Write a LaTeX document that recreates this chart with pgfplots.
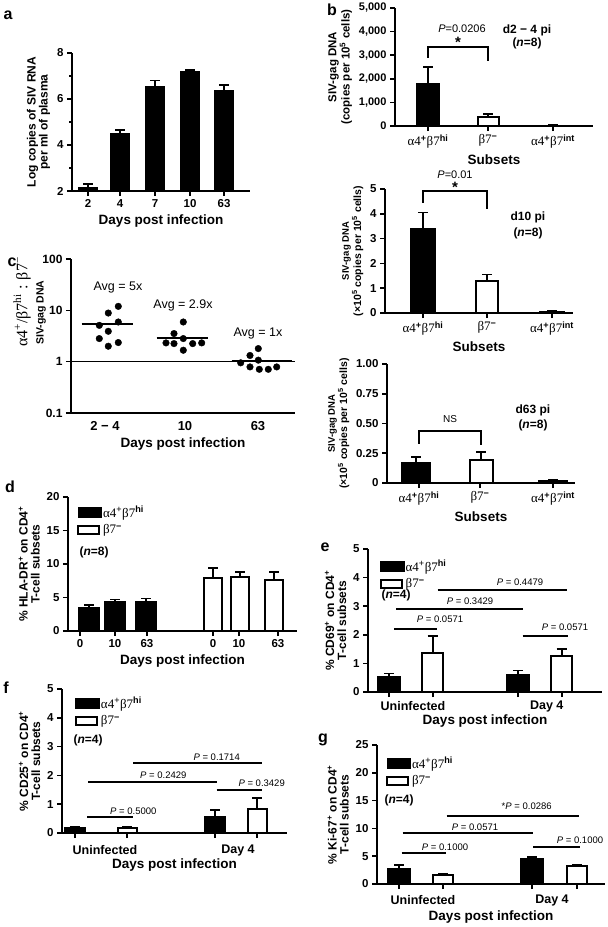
\documentclass[border=0pt]{standalone}
\usepackage{fontspec}
\setmainfont{Liberation Sans}
\newfontfamily\gk{Liberation Serif}
\usepackage{pgfplots}
\pgfplotsset{compat=1.18}
\newcommand{\fs}[1]{\fontsize{#1}{#1}\selectfont}
\newcommand{\ahi}{{\gk\mdseries α4}\textsuperscript{+}{\gk\mdseries β7}\textsuperscript{\bfseries hi}}
\newcommand{\aint}{{\gk\mdseries α4}\textsuperscript{+}{\gk\mdseries β7}\textsuperscript{\bfseries int}}
\newcommand{\bneg}{{\gk\mdseries β7}\textsuperscript{\bfseries −}}
\pgfplotsset{
  base/.style={
    scale only axis, axis lines*=left, clip=false,
    axis line style={line width=2.2pt},
    every tick/.style={black, line width=1.6pt},
    tick align=outside, major tick length=5pt, minor tick length=3pt,
    tick label style={font=\bfseries\fs{11.5}},
    xlabel style={font=\bfseries\fs{13.5}},
    ylabel style={font=\bfseries\fs{12}, align=center},
    /pgf/number format/assume math mode=true,
    scaled y ticks=false,
    legend cell align=left,
  },
  bk/.style={ybar, bar width=#1, bar shift=0pt, fill=black, draw=black, line width=1.5pt,
    legend image code/.code={\draw[fill=black, draw=black, line width=1.5pt] (0pt,-4.5pt) rectangle (23pt,4.5pt);},
    error bars/.cd, y dir=plus, y explicit, error bar style={line width=1.6pt, black}, error mark options={rotate=90, line width=1.6pt, mark size=5pt, black}},
  wh/.style={ybar, bar width=#1, bar shift=0pt, fill=white, draw=black, line width=2pt,
    legend image code/.code={\draw[fill=white, draw=black, line width=2pt] (0pt,-4pt) rectangle (21pt,4pt);},
    error bars/.cd, y dir=plus, y explicit, error bar style={line width=1.6pt, black}, error mark options={rotate=90, line width=1.6pt, mark size=5pt, black}},
  leg/.style={legend style={draw=none, fill=none, at={#1}, anchor=north west, inner sep=0pt, row sep=4pt,
    font=\fs{13}, nodes={inner sep=1pt, anchor=west}}},
  cat/.style 2 args={extra x tick style={major tick length=0pt, tick label style={font=\bfseries\fs{12.5}, anchor=center, yshift=-#1}},
    xlabel style={at={(rel axis cs:0.5,0)}, anchor=center, yshift=-#2}},
}
\tikzset{pv/.style={font=\fs{9.5}}, pl/.style={font=\bfseries\fs{16}}, sig/.style={line width=2pt, black}}
\begin{document}
\begin{tikzpicture}
\useasboundingbox (0,0) rectangle (608pt,-927pt);
% panel letters
\node[pl] at (8pt,-15pt) {a};
\node[pl] at (332pt,-10pt) {b};
\node[pl] at (12pt,-262pt) {c};
\node[pl] at (10pt,-487pt) {d};
\node[pl] at (325pt,-547pt) {e};
\node[pl] at (6pt,-688pt) {f};
\node[pl] at (323pt,-740pt) {g};
% panel c y label
\node[rotate=90, anchor=west, inner sep=0pt, font=\gk\fs{16}] at (22pt,-347pt) {α4\textsuperscript{+}/β7\textsuperscript{hi} : β7\textsuperscript{−}};
\node[rotate=90, anchor=west, inner sep=0pt, font=\bfseries\fs{10.5}] at (41pt,-345pt) {SIV-gag DNA};

% ---------- a ----------
\begin{axis}[base, at={(72pt,-191pt)}, anchor=south west, width=178pt, height=138pt,
  xmin=0, xmax=178, ymin=0, ymax=6, ytick={0,2,4,6}, yticklabels={2,4,6,8}, minor ytick={1,3,5},
  xtick={16,48,83,118,152}, xticklabels={2,4,7,10,63},
  xlabel={Days post infection}, ylabel={Log copies of SIV RNA\\per ml of plasma}]
\addplot[bk=18pt] coordinates {(16,0.15)+-(0,0.15) (48,2.5)+-(0,0.15) (83,4.55)+-(0,0.25) (118,5.2)+-(0,0.05) (152,4.35)+-(0,0.25)};
\end{axis}

% ---------- b top ----------
\begin{axis}[base, at={(395pt,-126pt)}, anchor=south west, width=198pt, height=118pt,
  xmin=0, xmax=198, ymin=0, ymax=5000, ytick={0,1000,2000,3000,4000,5000},
  yticklabel style={font=\bfseries\fs{11}},
  xtick={33,93,158}, xticklabels={\ahi,\bneg,\aint}, xticklabel style={font=\bfseries\fs{13}},
  xlabel={Subsets}, ylabel={SIV-gag DNA\\(copies per 10\textsuperscript{5} cells)}, ylabel style={font=\bfseries\fs{11.5}}]
\addplot[bk=23pt] coordinates {(33,1800)+-(0,700) (158,30)+-(0,30)};
\addplot[wh=21pt] coordinates {(93,380)+-(0,140)};
\draw[sig] (axis cs:33,2900) |- (axis cs:93,3360) -- (axis cs:93,2750);
\node[font=\bfseries\fs{15}] at (axis cs:63,3550) {*};
\node[font=\fs{11}] at (axis cs:67,4110) {\textit{P}=0.0206};
\node[font=\bfseries\fs{12}] at (axis cs:132,4070) {d2 − 4 pi};
\node[font=\bfseries\fs{12}] at (axis cs:132,3520) {(\textit{n}=8)};
\end{axis}

% ---------- b middle ----------
\begin{axis}[base, at={(385pt,-313pt)}, anchor=south west, width=188pt, height=124pt,
  xmin=0, xmax=188, ymin=0, ymax=5, ytick={0,1,2,3,4,5},
  yticklabel style={font=\bfseries\fs{11.5}},
  xtick={38,102,167}, xticklabels={\ahi,\bneg,\aint}, xticklabel style={font=\bfseries\fs{13}},
  xlabel={Subsets}, ylabel={{\fs{9.5}SIV-gag DNA}\\(×10\textsuperscript{5} copies per 10\textsuperscript{5} cells)}, ylabel style={font=\bfseries\fs{10.5}}]
\addplot[bk=25pt] coordinates {(38,3.4)+-(0,0.65) (167,0.04)+-(0,0.03)};
\addplot[wh=22pt] coordinates {(102,1.3)+-(0,0.25)};
\draw[sig] (axis cs:38,4.45) |- (axis cs:102,4.9) -- (axis cs:102,4.2);
\node[font=\bfseries\fs{15}] at (axis cs:70,5.05) {*};
\node[font=\fs{11}] at (axis cs:70,5.56) {\textit{P}=0.01};
\node[font=\bfseries\fs{12}] at (axis cs:143,3.87) {d10 pi};
\node[font=\bfseries\fs{12}] at (axis cs:143,3.23) {(\textit{n}=8)};
\end{axis}

% ---------- b bottom ----------
\begin{axis}[base, at={(387pt,-483pt)}, anchor=south west, width=188pt, height=119pt,
  xmin=0, xmax=188, ymin=0, ymax=1, ytick={0,0.25,0.5,0.75,1}, yticklabels={0,0.25,0.50,0.75,1.00},
  yticklabel style={font=\bfseries\fs{11.5}},
  xtick={32,93,166}, xticklabels={\ahi,\bneg,\aint}, xticklabel style={font=\bfseries\fs{13}},
  xlabel={Subsets}, ylabel={{\fs{9.5}SIV-gag DNA}\\(×10\textsuperscript{5} copies per 10\textsuperscript{5} cells)}, ylabel style={font=\bfseries\fs{10.5}}]
\addplot[bk=29pt] coordinates {(29,0.17)+-(0,0.05) (166,0.02)+-(0,0.01)};
\addplot[wh=23pt] coordinates {(94,0.19)+-(0,0.07)};
\draw[sig] (axis cs:32,0.33) |- (axis cs:94,0.44) -- (axis cs:94,0.32);
\node[font=\fs{10}] at (axis cs:63,0.535) {NS};
\node[font=\bfseries\fs{12}] at (axis cs:146,0.61) {d63 pi};
\node[font=\bfseries\fs{12}] at (axis cs:146,0.48) {(\textit{n}=8)};
\end{axis}

% ---------- c ----------
\begin{axis}[base, at={(71pt,-413pt)}, anchor=south west, width=224pt, height=154pt,
  xmin=0, xmax=224, ymode=log, ymin=0.1, ymax=100, ytick={0.1,1,10,100}, yticklabels={0.1,1,10,100},
  yminorticks=false, yticklabel style={font=\bfseries\fs{12}},
  xtick={34,114,187}, xticklabels={2 − 4,10,63}, xtick style={draw=none}, xticklabel style={font=\bfseries\fs{13}},
  xlabel={Days post infection}]
\addplot[line width=1.5pt, black] coordinates {(0,1) (224,1)};
\addplot[only marks, mark=*, mark size=3.3pt, black] coordinates {
 (47.3,11.97) (37.3,8.86) (47.3,5.93) (28.3,5.1) (37.3,3.91) (28.3,2.82) (47.3,2.36) (37.3,2.0)};
\addplot[only marks, mark=*, mark size=3.3pt, black] coordinates {
 (112.3,5.93) (103,3.53) (112.3,2.82) (95,2.32) (103,2.25) (121.7,2.25) (130.7,2.32) (112.3,1.67)};
\addplot[only marks, mark=*, mark size=3.3pt, black] coordinates {
 (187.3,1.8) (179,1.32) (187.3,1.07) (169.7,0.95) (179,0.79) (188.3,0.71) (197.3,0.71) (205.7,0.79)};
\addplot[line width=2pt, black] coordinates {(10.7,5.52) (62.3,5.52)};
\addplot[line width=2pt, black] coordinates {(85.7,2.95) (137.3,2.95)};
\addplot[line width=2pt, black] coordinates {(160.7,1.04) (220.7,1.04)};
\node[font=\fs{12.5}] at (axis cs:47,28) {Avg = 5x};
\node[font=\fs{12.5}] at (axis cs:112,12.5) {Avg = 2.9x};
\node[font=\fs{12.5}] at (axis cs:187,3.6) {Avg = 1x};
\end{axis}

% ---------- d ----------
\begin{axis}[base, at={(68pt,-631pt)}, anchor=south west, width=229pt, height=134pt,
  xmin=0, xmax=229, ymin=0, ymax=20, ytick={0,5,10,15,20},
  xtick={12,47,79,145,171,210}, xticklabels={0,10,63,0,10,63},
  xlabel={Days post infection}, ylabel={\% HLA-DR\textsuperscript{+} on CD4\textsuperscript{+}\\T-cell subsets},
  leg={(rel axis cs:0.04,0.94)}]
\addplot[bk=20pt] coordinates {(21,3.4)+-(0,0.5) (47,4.4)+-(0,0.3) (78,4.4)+-(0,0.45)};
\addplot[wh=18pt] coordinates {(145,7.9)+-(0,1.5) (172,8.0)+-(0,0.8) (206,7.6)+-(0,1.2)};
\legend{\ahi,\bneg}
\node[anchor=west, font=\bfseries\fs{12}] at (axis cs:8,11.8) {(\textit{n}=8)};
\end{axis}

% ---------- e ----------
\begin{axis}[base, cat={14pt}{29pt}, at={(368pt,-692pt)}, anchor=south west, width=234pt, height=143pt,
  xmin=0, xmax=234, ymin=0, ymax=5, ytick={0,1,2,3,4,5},
  xtick={21,64.7,150,193.7}, xticklabels={,,,}, extra x ticks={45,178.7}, extra x tick labels={Uninfected,Day 4},
  xlabel={Days post infection}, ylabel={\% CD69\textsuperscript{+} on CD4\textsuperscript{+}\\T-cell subsets},
  leg={(rel axis cs:0.05,0.93)}]
\addplot[bk=22pt] coordinates {(21,0.55)+-(0,0.1) (150,0.6)+-(0,0.15)};
\addplot[wh=21pt] coordinates {(64.7,1.35)+-(0,0.6) (193.7,1.25)+-(0,0.25)};
\legend{\ahi,\bneg}
\node[anchor=west, font=\bfseries\fs{12}] at (axis cs:10,3.39) {(\textit{n}=4)};
\draw[sig] (axis cs:26,2.21) -- (axis cs:69.3,2.21);
\node[pv] at (axis cs:72,2.54) {\textit{P} = 0.0571};
\draw[sig] (axis cs:28,2.91) -- (axis cs:154.7,2.91);
\node[pv] at (axis cs:102,3.19) {\textit{P} = 0.3429};
\draw[sig] (axis cs:69.7,3.58) -- (axis cs:198.7,3.58);
\node[pv] at (axis cs:152,3.83) {\textit{P} = 0.4479};
\draw[sig] (axis cs:154.7,1.95) -- (axis cs:199.7,1.95);
\node[pv] at (axis cs:197,2.26) {\textit{P} = 0.0571};
\end{axis}

% ---------- f ----------
\begin{axis}[base, cat={17pt}{32pt}, at={(62pt,-833pt)}, anchor=south west, width=225pt, height=144pt,
  xmin=0, xmax=225, ymin=0, ymax=5, ytick={0,1,2,3,4,5},
  xtick={13,65,153,195}, xticklabels={,,,}, extra x ticks={43,176}, extra x tick labels={Uninfected,Day 4},
  xlabel={Days post infection}, ylabel={\% CD25\textsuperscript{+} on CD4\textsuperscript{+}\\T-cell subsets},
  leg={(rel axis cs:0.058,0.951)}]
\addplot[bk=20pt] coordinates {(13,0.2)+-(0,0.02) (153,0.55)+-(0,0.25)};
\addplot[wh=19pt] coordinates {(65,0.18)+-(0,0.02) (195,0.82)+-(0,0.4)};
\legend{\ahi,\bneg}
\node[anchor=west, font=\bfseries\fs{12}] at (axis cs:8,3.23) {(\textit{n}=4)};
\draw[sig] (axis cs:25.3,0.56) -- (axis cs:70.7,0.56);
\node[pv] at (axis cs:71.3,0.77) {\textit{P} = 0.5000};
\draw[sig] (axis cs:26.3,1.78) -- (axis cs:155.3,1.78);
\node[pv] at (axis cs:101.3,2.01) {\textit{P} = 0.2429};
\draw[sig] (axis cs:71.3,2.42) -- (axis cs:199.7,2.42);
\node[pv] at (axis cs:154.7,2.63) {\textit{P} = 0.1714};
\draw[sig] (axis cs:154.7,1.51) -- (axis cs:199.7,1.51);
\node[pv] at (axis cs:199.7,1.74) {\textit{P} = 0.3429};
\end{axis}

% ---------- g ----------
\begin{axis}[base, cat={16pt}{33pt}, at={(377pt,-884pt)}, anchor=south west, width=228pt, height=139pt,
  xmin=0, xmax=228, ymin=0, ymax=25, ytick={0,5,10,15,20,25},
  xtick={22,66,155,200}, xticklabels={,,,}, extra x ticks={46,175}, extra x tick labels={Uninfected,Day 4},
  xlabel={Days post infection}, ylabel={\% Ki-67\textsuperscript{+} on CD4\textsuperscript{+}\\T-cell subsets},
  leg={(rel axis cs:0.04,0.92)}]
\addplot[bk=22pt] coordinates {(22,2.8)+-(0,0.6) (155,4.6)+-(0,0.25)};
\addplot[wh=20pt] coordinates {(66,1.6)+-(0,0.15) (200,3.3)+-(0,0.15)};
\legend{\ahi,\bneg}
\node[anchor=west, font=\bfseries\fs{12}] at (axis cs:4,15.1) {(\textit{n}=4)};
\draw[sig] (axis cs:24.7,5.5) -- (axis cs:69,5.5);
\node[pv] at (axis cs:68,6.7) {\textit{P} = 0.1000};
\draw[sig] (axis cs:25.7,9.1) -- (axis cs:156.3,9.1);
\node[pv] at (axis cs:98,10.3) {\textit{P} = 0.0571};
\draw[sig] (axis cs:69.7,12.2) -- (axis cs:202.3,12.2);
\node[pv] at (axis cs:149.7,13.9) {*\textit{P} = 0.0286};
\draw[sig] (axis cs:156.3,6.6) -- (axis cs:203,6.6);
\node[pv] at (axis cs:203,7.9) {\textit{P} = 0.1000};
\end{axis}
\end{tikzpicture}
\end{document}
